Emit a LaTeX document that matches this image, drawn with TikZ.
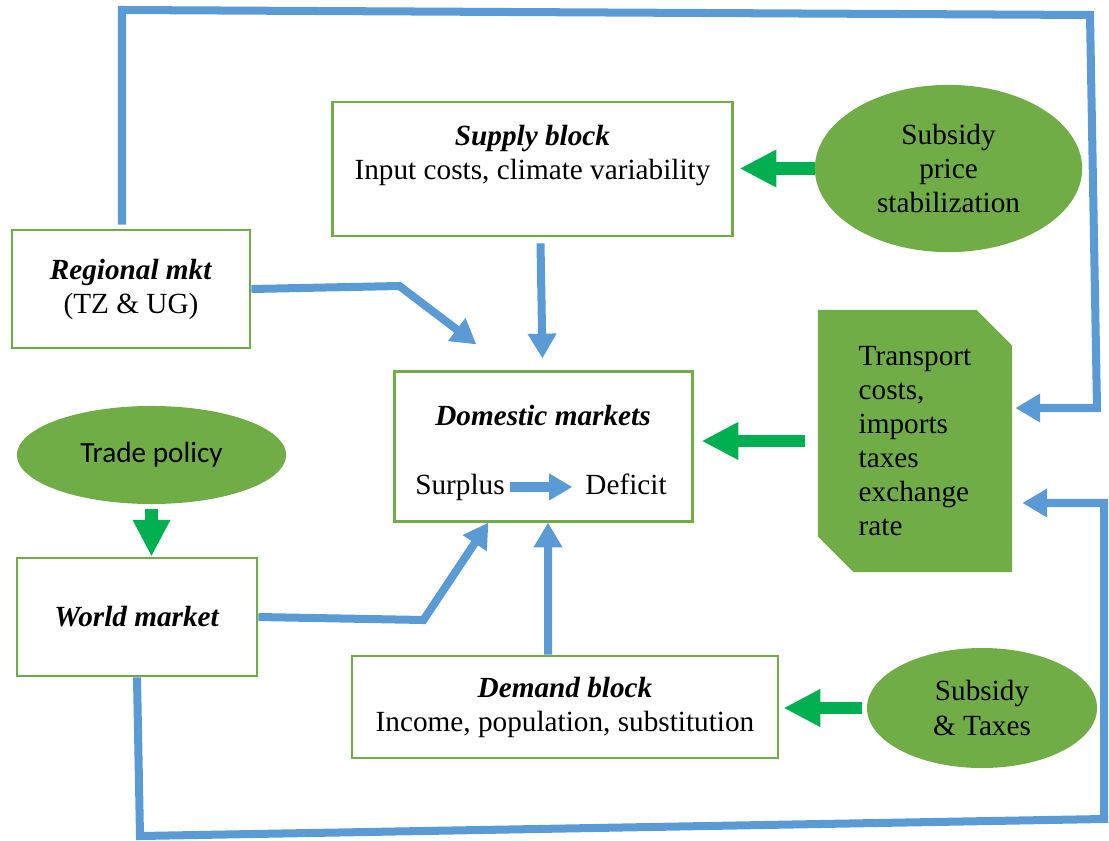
\documentclass[tikz,border=0pt]{standalone}
\usepackage{fontspec}
\setmainfont{Liberation Serif}
\newfontfamily\calibri{Carlito}
\usetikzlibrary{arrows.meta,positioning,calc,shapes.geometric,shapes.misc}
\definecolor{boxgreen}{RGB}{112,173,71}
\definecolor{arrowgreen}{RGB}{0,176,80}
\definecolor{linkblue}{RGB}{91,155,213}

\begin{document}
\begin{tikzpicture}[x=0.025cm,y=-0.025cm,
  every node/.style={font=\fontsize{20.8}{24.2}\selectfont,align=center},
  blk/.style={draw=boxgreen,line width=2pt,fill=white},
  pol/.style={ellipse,fill=boxgreen,inner sep=0pt},
  gflow/.style={draw=arrowgreen,line width=9pt,-{Triangle[length=0.92cm,width=0.88cm]}},
  bflow/.style={draw=linkblue,line width=5.7pt,-{Triangle[length=0.62cm,width=0.68cm]}}]
\useasboundingbox (0,0) rectangle (1109,840);
% blocks
\node[blk,minimum width=9.98cm,minimum height=3.35cm] (supply) at (532.5,169) {\textbf{\textit{Supply block}}\\Input costs, climate variability\\\mbox{}};
\node[pol,minimum width=6.68cm,minimum height=4.18cm] (stab) at (948.5,168.5) {Subsidy\\price\\stabilization};
\node[blk,minimum width=5.95cm,minimum height=2.95cm] (regional) at (131,289) {\textbf{\textit{Regional mkt}}\\(TZ \& UG)};
\node[blk,minimum width=7.43cm,minimum height=3.73cm] (domestic) at (543.5,446.5) {};
\node (domtitle) at (543,415) {\textbf{\textit{Domestic markets}}};
\node[anchor=base] (surplus) at (460,494) {Surplus};
\node[anchor=base] (deficit) at (626,494) {Deficit};
\node[chamfered rectangle,chamfered rectangle corners={north east,south west},chamfered rectangle xsep=0.78cm,fill=boxgreen,minimum width=4.85cm,minimum height=6.55cm,align=left] (transport) at (915,441) {Transport\\costs,\\imports\\taxes\\exchange\\rate};
\node[pol,minimum width=6.73cm,minimum height=2.45cm,font=\calibri\fontsize{20.8}{24.2}\selectfont] (trade) at (151.5,455) {Trade policy};
\node[blk,minimum width=6cm,minimum height=2.95cm] (world) at (137,617) {\textbf{\textit{World market}}};
\node[blk,minimum width=10.65cm,minimum height=2.55cm] (demand) at (565,707) {\textbf{\textit{Demand block}}\\Income, population, substitution};
\node[pol,minimum width=5.75cm,minimum height=3cm] (taxes) at (982,708) {Subsidy\\\& Taxes};
% policy arrows
\draw[gflow,shorten >=0.15cm] (stab.west) -- (stab.west -| supply.east);
\draw[gflow,shorten <=0.33cm,shorten >=0.2cm] (transport.west) -- (transport.west -| domestic.east);
\draw[gflow,shorten <=0.12cm] (trade.south) -- (trade.south |- world.north);
\draw[gflow,shorten <=0.12cm,shorten >=0.1cm] (taxes.west) -- (taxes.west -| demand.east);
% market links
\draw[bflow,line width=7pt,-{Triangle[length=0.58cm,width=0.63cm]},shorten >=0.2cm] (surplus.east) -- (surplus.east -| deficit.west);
\draw[bflow] (regional.east) -- ++(148,-3) -- ($(domestic.north west)+(83,-26)$);
\draw[bflow] ($(supply.south)+(8,6)$) -- ($(domestic.north)+(-1,-12)$);
\draw[bflow] (world.east) -- ++(165,3) -- ($(domestic.south west)+(95,0)$);
\draw[bflow] ($(demand.north)+(-17,0)$) -- ($(domestic.south)+(4.5,0)$);
% feedback loops
\coordinate (tl) at (122,10);
\coordinate (tr) at (1090,15);
\coordinate (rt) at (1097,408);
\draw[bflow] ($(regional.north)+(-9,-4)$) -- (tl) -- (tr) -- (rt) -- ($(transport.east)+(3,-33)$);
\coordinate (bl) at (140,836);
\coordinate (br) at (1104,819);
\coordinate (rb) at (1104,503);
\draw[bflow] (world.south) -- (bl) -- (br) -- (rb) -- ($(transport.east)+(10,62)$);
\end{tikzpicture}
\end{document}
